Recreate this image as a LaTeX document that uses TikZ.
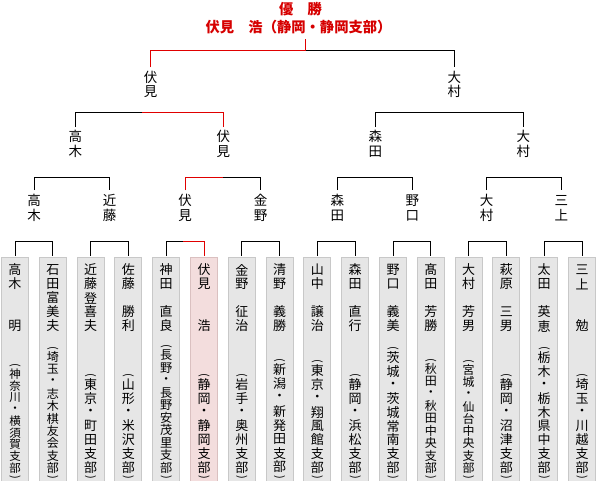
\documentclass[tikz,border=0pt]{standalone}
\usepackage{fontspec}
\setmainfont{Noto Sans CJK JP}
\definecolor{winred}{RGB}{224,0,0}
\definecolor{titlered}{RGB}{214,0,0}
\definecolor{boxgray}{RGB}{230,230,230}
\definecolor{boxedge}{RGB}{200,200,200}
\definecolor{boxpink}{RGB}{243,221,221}
\definecolor{pinkedge}{RGB}{218,192,192}
\tikzset{
  line/.style={line width=1pt, draw=black},
  redline/.style={line width=1pt, draw=winred},
  entrybox/.style={fill=boxgray, draw=boxedge, line width=1pt},
  champbox/.style={fill=boxpink, draw=pinkedge, line width=1pt},
  chr/.style={inner sep=0pt, font=\fontsize{13}{13}\selectfont},
  par/.style={inner sep=0pt, rotate=-90, font=\fontsize{11}{11}\selectfont},
  lbl/.style={inner sep=0pt, align=center, font=\fontsize{13.5}{14.5}\selectfont},
  title/.style={inner sep=0pt, text=titlered, font=\fontsize{14.3}{14.3}\selectfont\bfseries},
}
% #1 id, #2 x, #3 style, #4 name chars, #5 branch chars, #6 top of branch, #7 count
\newcommand\entrycol[7]{%
  \node[#3, minimum width=27pt, minimum height=230pt, anchor=north, inner sep=0pt] (box#1) at (#2,256.5) {};
  \coordinate (b#1) at (#2,256);
  \foreach \chr [count=\k] in {#4} {\node[chr] (box#1-n\k) at (#2,256+14*\k) {\chr};}
  \node[par] (box#1-po) at (#2,#6+3) {(};
  \pgfmathsetmacro\pitch{(480-#6-12)/#7}
  \pgfmathsetmacro\fs{min(13,\pitch-0.3)}
  \foreach \chr [count=\k] in {#5} {%
    \pgfmathsetmacro\yy{#6+6+\pitch*(\k-0.5)}
    \node[chr, font=\fontsize{\fs}{\fs}\selectfont] (box#1-b\k) at (#2,\yy) {\chr};}
  \node[par] (box#1-pc) at (#2,477) {)};
}
\begin{document}
\begin{tikzpicture}[x=1pt,y=-1pt]
\useasboundingbox (0,0) rectangle (596,480);
\clip (0,0) rectangle (596,480);

% ---------- title ----------
\node[title] (ttl) at (300.5,9) {優　勝};
\node[title] (champ) at (298.5,27) {伏見　浩（静岡・静岡支部）};
\coordinate (final) at (305.7,39);

% ---------- entries ----------
\entrycol{1}{15}{entrybox}{高,木,{},{},明}{神,奈,川,・,横,須,賀,支,部}{362}{9}
\entrycol{2}{52.8}{entrybox}{石,田,富,美,夫}{埼,玉,・,志,木,棋,友,会,支,部}{345}{10}
\entrycol{3}{90.6}{entrybox}{近,藤,登,喜,夫}{東,京,・,町,田,支,部}{372}{7}
\entrycol{4}{128.4}{entrybox}{佐,藤,{},勝,利}{山,形,・,米,沢,支,部}{372}{7}
\entrycol{5}{166.2}{entrybox}{神,田,{},直,良}{長,野,・,長,野,安,茂,里,支,部}{343}{10}
\entrycol{6}{204}{champbox}{伏,見,{},{},浩}{静,岡,・,静,岡,支,部}{372}{7}
\entrycol{7}{241.8}{entrybox}{金,野,{},征,治}{岩,手,・,奥,州,支,部}{372}{7}
\entrycol{8}{279.6}{entrybox}{清,野,{},義,勝}{新,潟,・,新,発,田,支,部}{357}{8}
\entrycol{9}{317.4}{entrybox}{山,中,{},譲,治}{東,京,・,翔,風,館,支,部}{358}{8}
\entrycol{10}{355.2}{entrybox}{森,田,{},直,行}{静,岡,・,浜,松,支,部}{372}{7}
\entrycol{11}{393}{entrybox}{野,口,{},義,美}{茨,城,・,茨,城,常,南,支,部}{345}{9}
\entrycol{12}{430.8}{entrybox}{髙,田,{},芳,勝}{秋,田,・,秋,田,中,央,支,部}{357}{9}
\entrycol{13}{468.6}{entrybox}{大,村,{},芳,男}{宮,城,・,仙,台,中,央,支,部}{358}{9}
\entrycol{14}{506.4}{entrybox}{萩,原,{},三,男}{静,岡,・,沼,津,支,部}{372}{7}
\entrycol{15}{544.2}{entrybox}{太,田,{},英,恵}{栃,木,・,栃,木,県,中,支,部}{345}{9}
\entrycol{16}{582}{entrybox}{三,上,{},{},勉}{埼,玉,・,川,越,支,部}{372}{7}

% ---------- round labels ----------
\foreach \nm/\x [count=\i] in {高\\木/34, 近\\藤/109.5, 伏\\見/185, 金\\野/260.7,
                                森\\田/337.3, 野\\口/412.3, 大\\村/486.5, 三\\上/561.3} {
  \node[lbl] (r3-\i) at (\x,208) {\nm};
  \coordinate (t3-\i) at (\x,190);
}
\foreach \nm/\x [count=\i] in {高\\木/75.3, 伏\\見/223.3, 森\\田/375.3, 大\\村/523.3} {
  \node[lbl] (r2-\i) at (\x,144) {\nm};
  \coordinate (t2-\i) at (\x,127);
}
\foreach \nm/\x [count=\i] in {伏\\見/150.5, 大\\村/454.3} {
  \node[lbl] (r1-\i) at (\x,84.5) {\nm};
  \coordinate (t1-\i) at (\x,67);
}

% ---------- brackets ----------
\foreach \a/\b in {1/2,3/4,5/6,7/8,9/10,11/12,13/14,15/16}
  \draw[line] (b\a) -- ++(0,-15) -| (b\b);
\foreach \a/\b in {1/2,3/4,5/6,7/8}
  \draw[line] (t3-\a) -- ++(0,-13) -| (t3-\b);
\foreach \a/\b in {1/2,3/4}
  \draw[line] (t2-\a) -- ++(0,-15) -| (t2-\b);
\draw[line] (t1-1) -- ++(0,-17) -| (t1-2);

% ---------- champion path ----------
\draw[redline] (b6) -- ++(0,-15) -- ++(-21.3,0);
\draw[redline] (t3-3) -- ++(0,-13) -- ++(38,0);
\draw[redline] (t2-2) -- ++(0,-15) -- ++(-81.3,0);
\draw[redline] (t1-1) -- ++(0,-17) -| (final);
\end{tikzpicture}
\end{document}
